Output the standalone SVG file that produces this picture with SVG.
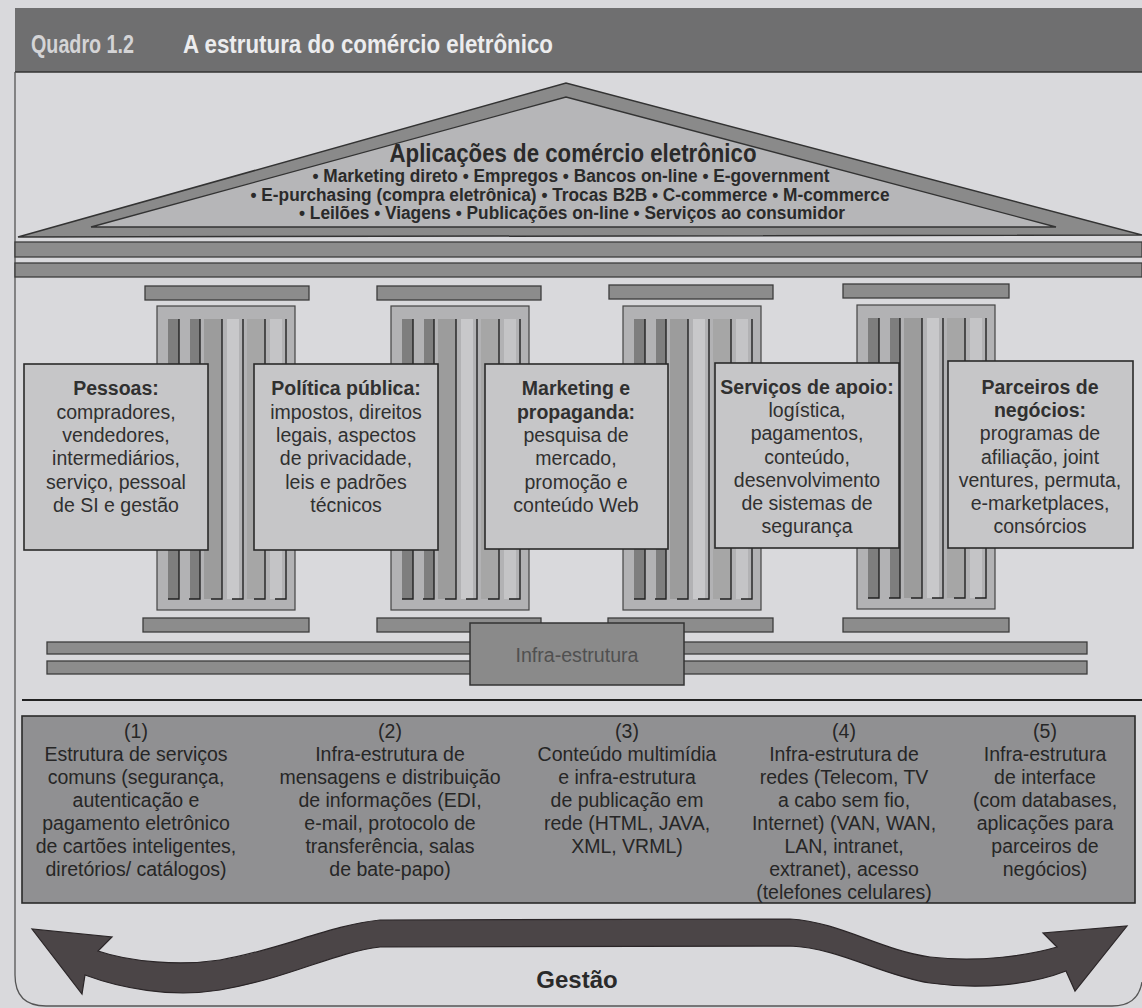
<svg xmlns="http://www.w3.org/2000/svg" xmlns:xlink="http://www.w3.org/1999/xlink" width="1142" height="1008" viewBox="0 0 1142 1008">
<style>
.bar{fill:#8c8c8c;stroke:#3c3c3c;stroke-width:1.3}
.box{fill:#c6c6c8;stroke:#2a2a2a;stroke-width:1.6}
.bt{font-family:"Liberation Sans",Arial,sans-serif;font-size:19.5px;fill:#303030;text-anchor:middle}
.bt .b{font-weight:bold}
.roof{font-family:"Liberation Sans",Arial,sans-serif;font-weight:bold;fill:#2a2a2a;text-anchor:middle}
.low{font-family:"Liberation Sans",Arial,sans-serif;font-size:19.5px;fill:#262626;text-anchor:middle}
.fl{stroke:#222;stroke-width:1.4;fill:none}
</style>
<defs>
<g id="col">
<rect x="0" y="0" width="138" height="304" fill="#b2b2b4" stroke="#444" stroke-width="1.2"/>
<rect x="11" y="13" width="11" height="280" fill="#7e7e7e"/>
<rect x="33" y="13" width="10" height="280" fill="#7e7e7e"/>
<rect x="47" y="13" width="18" height="280" fill="#9c9c9c"/>
<rect x="70" y="13" width="12" height="280" fill="#c8c8ca"/>
<rect x="90" y="13" width="18" height="280" fill="#a6a6a6"/>
<rect x="113" y="13" width="12" height="280" fill="#c4c4c6"/>
<path class="fl" d="M22 13V293H11M43 13V293H32M65 13V293H54M86 13V293H75M108 13V293H97M129 13V293H118"/>
</g>
</defs>
<rect width="1142" height="1008" fill="#d9d9dc"/>
<g id="header">
<rect x="15" y="8" width="1127" height="64" fill="#6f6f70"/>
<line x1="15" y1="72" x2="1142" y2="72" stroke="#333" stroke-width="1.5"/>
<text x="31" y="53" font-family="Liberation Sans,Arial,sans-serif" font-weight="bold" font-size="26" fill="#d4d4d6" textLength="103" lengthAdjust="spacingAndGlyphs">Quadro 1.2</text>
<text x="183" y="53" font-family="Liberation Sans,Arial,sans-serif" font-weight="bold" font-size="26" fill="#ececee" textLength="370" lengthAdjust="spacingAndGlyphs">A estrutura do comércio eletrônico</text>
</g>
<path id="frame" d="M15 72V975Q15 1006 46 1006H1112Q1138 1006 1142 982" fill="none" stroke="#555" stroke-width="1.3"/>
<g id="roof">
<polygon points="18,237 566,83 1142,235" fill="#8a8a8a" stroke="#333" stroke-width="1.5"/>
<polygon points="91,227 566,97 1056,227" fill="#b6b6b8" stroke="#333" stroke-width="1.3"/>
<text class="roof" x="573" y="162" font-size="25" textLength="367" lengthAdjust="spacingAndGlyphs">Aplicações de comércio eletrônico</text>
<text class="roof" x="571" y="182" font-size="18" textLength="517" lengthAdjust="spacingAndGlyphs">• Marketing direto • Empregos • Bancos on-line • E-government</text>
<text class="roof" x="570" y="200.5" font-size="18" textLength="639" lengthAdjust="spacingAndGlyphs">• E-purchasing (compra eletrônica) • Trocas B2B • C-commerce • M-commerce</text>
<text class="roof" x="572" y="219" font-size="18" textLength="546" lengthAdjust="spacingAndGlyphs">• Leilões • Viagens • Publicações on-line • Serviços ao consumidor</text>
</g>
<g id="entablature">
<rect class="bar" x="15" y="242" width="1127" height="15"/>
<rect class="bar" x="15" y="263" width="1127" height="14"/>
</g>
<g id="columns">
<rect class="bar" x="145" y="286" width="164" height="14"/>
<rect class="bar" x="377" y="286" width="164" height="14"/>
<rect class="bar" x="609" y="285" width="164" height="14"/>
<rect class="bar" x="843" y="284" width="166" height="14"/>
<use xlink:href="#col" x="157" y="306"/>
<use xlink:href="#col" x="391" y="306"/>
<use xlink:href="#col" x="623" y="306"/>
<use xlink:href="#col" x="857" y="305"/>
<rect class="bar" x="143" y="618" width="166" height="14"/>
<rect class="bar" x="377" y="618" width="164" height="14"/>
<rect class="bar" x="608" y="618" width="165" height="14"/>
<rect class="bar" x="843" y="618" width="166" height="14"/>
</g>
<g id="node-pessoas">
<rect class="box" x="24" y="364" width="184" height="186"/>
<text class="bt"><tspan class="b" x="116" y="395">Pessoas:</tspan><tspan x="116" y="418.5">compradores,</tspan><tspan x="116" y="442">vendedores,</tspan><tspan x="116" y="465">intermediários,</tspan><tspan x="116" y="488.5">serviço, pessoal</tspan><tspan x="116" y="512">de SI e gestão</tspan></text>
</g>
<g id="node-politica">
<rect class="box" x="254" y="364" width="184" height="186"/>
<text class="bt"><tspan class="b" x="346" y="395">Política pública:</tspan><tspan x="346" y="418.5">impostos, direitos</tspan><tspan x="346" y="442">legais, aspectos</tspan><tspan x="346" y="465">de privacidade,</tspan><tspan x="346" y="488.5">leis e padrões</tspan><tspan x="346" y="512">técnicos</tspan></text>
</g>
<g id="node-marketing">
<rect class="box" x="485" y="364" width="183" height="185"/>
<text class="bt"><tspan class="b" x="576" y="395">Marketing e</tspan><tspan class="b" x="576" y="418.5">propaganda:</tspan><tspan x="576" y="442">pesquisa de</tspan><tspan x="576" y="465">mercado,</tspan><tspan x="576" y="488.5">promoção e</tspan><tspan x="576" y="512">conteúdo Web</tspan></text>
</g>
<g id="node-servicos">
<rect class="box" x="715" y="363" width="184" height="185"/>
<text class="bt"><tspan class="b" x="807" y="394">Serviços de apoio:</tspan><tspan x="807" y="417">logística,</tspan><tspan x="807" y="440">pagamentos,</tspan><tspan x="807" y="464">conteúdo,</tspan><tspan x="807" y="487">desenvolvimento</tspan><tspan x="807" y="510">de sistemas de</tspan><tspan x="807" y="533">segurança</tspan></text>
</g>
<g id="node-parceiros">
<rect class="box" x="948" y="361" width="185" height="187"/>
<text class="bt"><tspan class="b" x="1040" y="394">Parceiros de</tspan><tspan class="b" x="1040" y="417">negócios:</tspan><tspan x="1040" y="440">programas de</tspan><tspan x="1040" y="464">afiliação, joint</tspan><tspan x="1040" y="487">ventures, permuta,</tspan><tspan x="1040" y="510">e-marketplaces,</tspan><tspan x="1040" y="533">consórcios</tspan></text>
</g>
<g id="node-infra">
<rect class="bar" x="47" y="642" width="1040" height="12"/>
<rect class="bar" x="47" y="661" width="1040" height="13"/>
<rect x="470" y="623" width="214" height="62" fill="#8a8a8a" stroke="#333" stroke-width="1.5"/>
<text x="577" y="662" font-family="Liberation Sans,Arial,sans-serif" font-size="20" fill="#505050" text-anchor="middle" textLength="123" lengthAdjust="spacingAndGlyphs">Infra-estrutura</text>
</g>
<line x1="22" y1="700" x2="1142" y2="700" stroke="#222" stroke-width="2"/>
<g id="node-base">
<rect x="22" y="716" width="1113" height="187" fill="#909092" stroke="#2a2a2a" stroke-width="1.6"/>
<text class="low"><tspan x="136" y="738">(1)</tspan><tspan x="136" y="761">Estrutura de serviços</tspan><tspan x="136" y="784">comuns (segurança,</tspan><tspan x="136" y="807">autenticação e</tspan><tspan x="136" y="830">pagamento eletrônico</tspan><tspan x="136" y="853">de cartões inteligentes,</tspan><tspan x="136" y="876">diretórios/ catálogos)</tspan></text>
<text class="low"><tspan x="390" y="738">(2)</tspan><tspan x="390" y="761">Infra-estrutura de</tspan><tspan x="390" y="784">mensagens e distribuição</tspan><tspan x="390" y="807">de informações (EDI,</tspan><tspan x="390" y="830">e-mail, protocolo de</tspan><tspan x="390" y="853">transferência, salas</tspan><tspan x="390" y="876">de bate-papo)</tspan></text>
<text class="low"><tspan x="627" y="738">(3)</tspan><tspan x="627" y="761">Conteúdo multimídia</tspan><tspan x="627" y="784">e infra-estrutura</tspan><tspan x="627" y="807">de publicação em</tspan><tspan x="627" y="830">rede (HTML, JAVA,</tspan><tspan x="627" y="853">XML, VRML)</tspan></text>
<text class="low"><tspan x="844" y="738">(4)</tspan><tspan x="844" y="761">Infra-estrutura de</tspan><tspan x="844" y="784">redes (Telecom, TV</tspan><tspan x="844" y="807">a cabo sem fio,</tspan><tspan x="844" y="830">Internet) (VAN, WAN,</tspan><tspan x="844" y="853">LAN, intranet,</tspan><tspan x="844" y="876">extranet), acesso</tspan><tspan x="844" y="899">(telefones celulares)</tspan></text>
<text class="low"><tspan x="1045" y="738">(5)</tspan><tspan x="1045" y="761">Infra-estrutura</tspan><tspan x="1045" y="784">de interface</tspan><tspan x="1045" y="807">(com databases,</tspan><tspan x="1045" y="830">aplicações para</tspan><tspan x="1045" y="853">parceiros de</tspan><tspan x="1045" y="876">negócios)</tspan></text>
</g>
<g id="connectors">
<path d="M98 951C130 962 180 966 220 960C280 950 330 925 380 920L790 919C840 922 880 950 930 957C980 963 1030 955 1057 947L1043 933L1127 926L1075 991L1066 971C1030 985 980 990 930 983C880 975 840 948 790 946L380 947C335 952 290 978 220 990C170 998 120 988 85 975L82 994L32 929L112 937Z" fill="#4b4547" stroke="#2a2527" stroke-width="1.2"/>
</g>
<text id="gestao" x="577" y="988" font-family="Liberation Sans,Arial,sans-serif" font-weight="bold" font-size="24" fill="#2a2a2a" text-anchor="middle">Gestão</text>
</svg>
